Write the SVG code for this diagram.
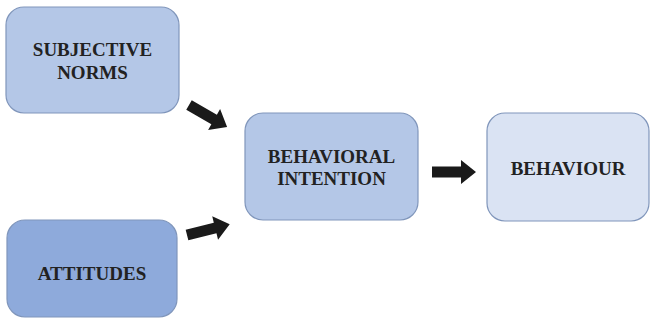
<svg xmlns="http://www.w3.org/2000/svg" xmlns:xlink="http://www.w3.org/1999/xlink" width="651" height="327" viewBox="0 0 651 327">
<style>
.box{stroke:#8096bb;stroke-width:1.2}
.lbl{font-family:"Liberation Serif","Times New Roman",serif;font-weight:bold;font-size:19px;fill:#222;text-anchor:middle}
.arr{fill:#1a1a1a}
</style>
<defs>
<polygon id="arrow" class="arr" points="0,-5.5 29,-5.5 29,-12 44,0 29,12 29,5.5 0,5.5"/>
</defs>
<rect width="651" height="327" fill="#fff"/>
<g id="subjective-norms">
<rect class="box" x="6" y="7" width="173" height="106" rx="18" fill="#b4c7e7"/>
<text class="lbl" x="92.5" y="56">SUBJECTIVE</text>
<text class="lbl" x="92.5" y="79">NORMS</text>
</g>
<g id="attitudes">
<rect class="box" x="7" y="220" width="170" height="97" rx="18" fill="#8eaadb"/>
<text class="lbl" x="92" y="280">ATTITUDES</text>
</g>
<g id="behavioral-intention">
<rect class="box" x="245" y="113" width="173" height="107" rx="18" fill="#b4c7e7"/>
<text class="lbl" x="331.5" y="163">BEHAVIORAL</text>
<text class="lbl" x="331.5" y="185">INTENTION</text>
</g>
<g id="behaviour">
<rect class="box" x="487" y="113" width="162" height="108" rx="18" fill="#dae3f3"/>
<text class="lbl" x="568" y="175">BEHAVIOUR</text>
</g>
<g id="connectors">
<use xlink:href="#arrow" transform="translate(189,105) rotate(30)"/>
<use xlink:href="#arrow" transform="translate(187,235) rotate(-14)"/>
<use xlink:href="#arrow" transform="translate(432,172)"/>
</g>
</svg>
